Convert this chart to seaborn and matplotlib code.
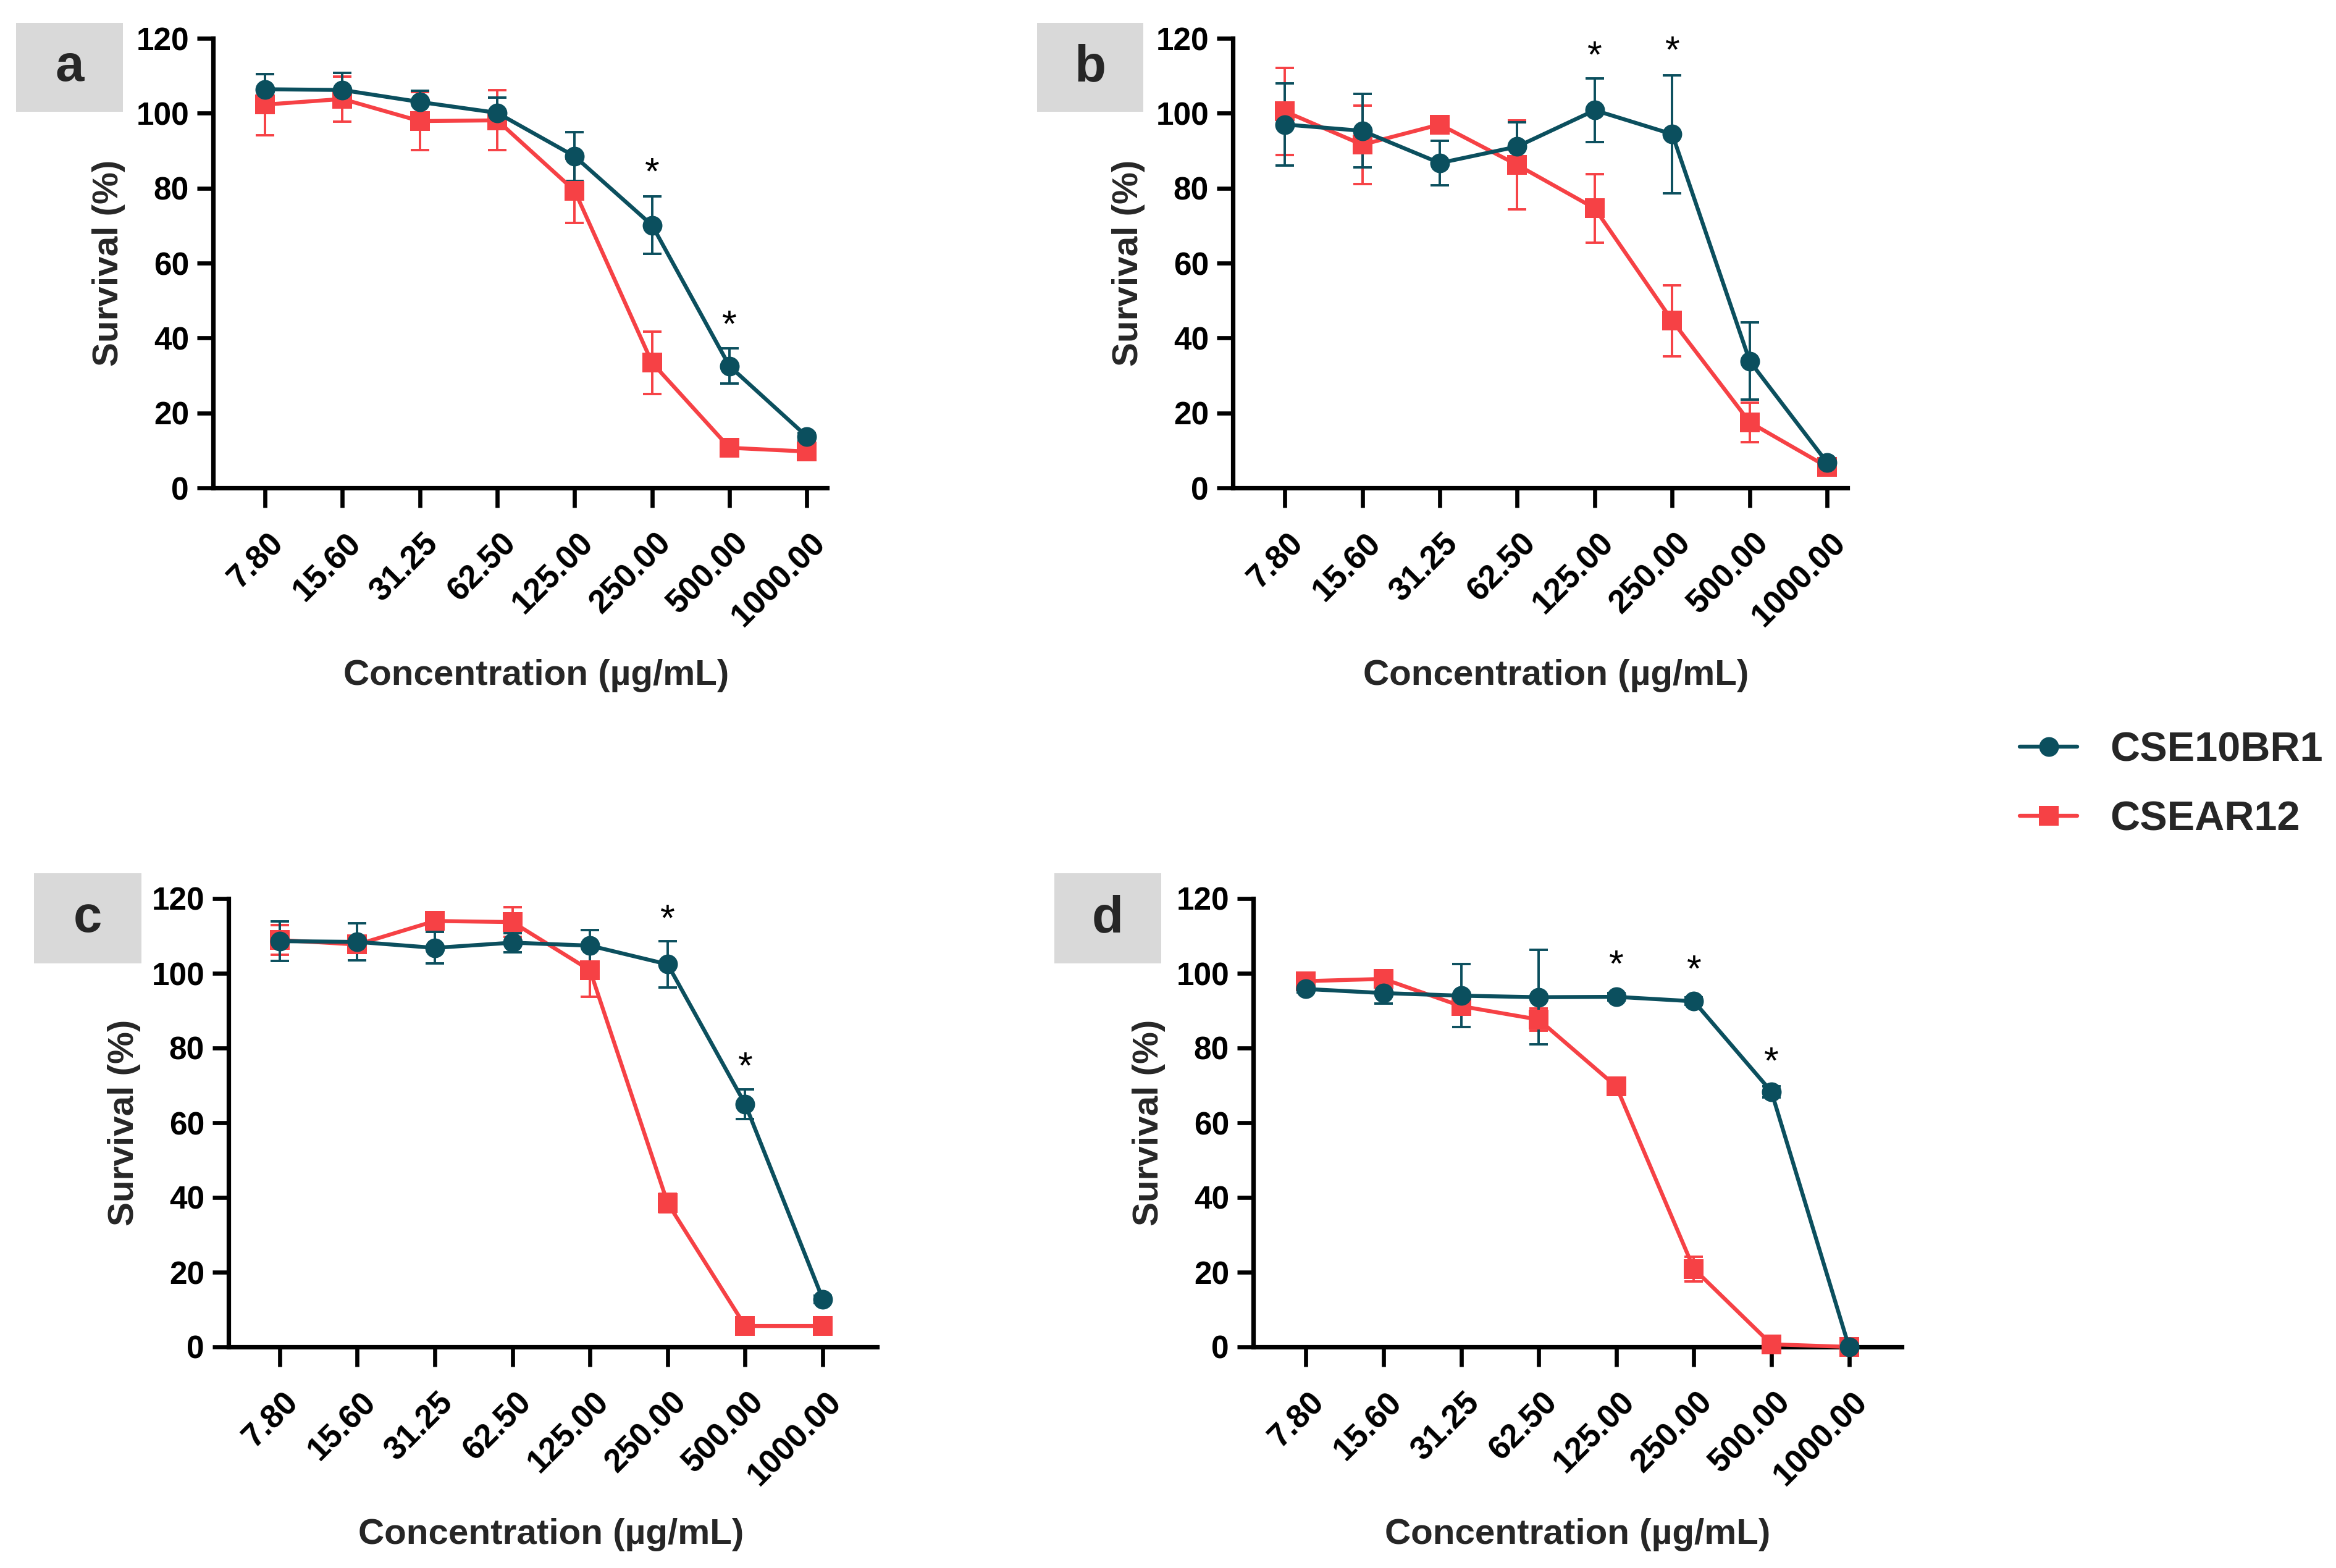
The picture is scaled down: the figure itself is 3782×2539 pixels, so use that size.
import numpy as np
import pandas as pd
import seaborn as sns
import matplotlib.pyplot as plt
import matplotlib.transforms as mtransforms
from matplotlib.lines import Line2D
from matplotlib.patches import Rectangle

# ------------------------------
# Data
# ------------------------------
conc_labels = ["7.80", "15.60", "31.25", "62.50", "125.00", "250.00", "500.00", "1000.00"]
strains = ["CSE10BR1", "CSEAR12"]

a_cse10 = [106.4, 106.2, 103.0, 100.1, 88.5, 70.1, 32.5, 13.7]
a_cse10_sd = [4.0, 4.5, 3.0, 4.0, 6.5, 7.7, 4.7, 1.0]
a_csear = [102.3, 103.8, 97.9, 98.1, 79.3, 33.4, 10.7, 9.7]
a_csear_sd = [8.2, 6.0, 7.8, 8.0, 8.6, 8.3, 1.0, 1.0]
a_stars = [(5, 83.7), (6, 43.0)]

b_cse10 = [97.0, 95.3, 86.7, 91.1, 100.8, 94.4, 33.8, 6.7]
b_cse10_sd = [11.0, 9.8, 6.0, 6.5, 8.5, 15.7, 10.3, 1.0]
b_csear = [100.5, 91.6, 97.0, 86.2, 74.6, 44.6, 17.5, 5.6]
b_csear_sd = [11.6, 10.5, 1.0, 11.8, 9.2, 9.5, 5.3, 1.0]
b_stars = [(4, 114.9), (5, 116.2)]

c_cse10 = [108.6, 108.4, 106.8, 108.2, 107.4, 102.4, 65.0, 12.8]
c_cse10_sd = [5.3, 5.0, 4.2, 2.5, 4.2, 6.2, 4.0, 1.0]
c_csear = [108.9, 107.7, 114.0, 113.7, 100.8, 38.5, 5.6, 5.6]
c_csear_sd = [4.0, 2.0, 1.0, 4.0, 7.0, 2.5, 1.0, 1.0]
c_stars = [(5, 114.0), (6, 74.6)]

d_cse10 = [95.8, 94.7, 94.0, 93.6, 93.7, 92.5, 68.3, 0.0]
d_cse10_sd = [1.0, 2.8, 8.4, 12.6, 1.0, 1.0, 1.5, 0.5]
d_csear = [97.9, 98.5, 91.2, 87.6, 69.7, 20.9, 0.7, 0.0]
d_csear_sd = [1.0, 1.0, 1.5, 3.0, 1.0, 3.3, 1.0, 0.5]
d_stars = [(4, 101.9), (5, 100.5), (6, 75.9)]

# ------------------------------
# Style
# ------------------------------
sns.set_style("ticks")
plt.rcParams['font.family'] = ['Liberation Sans', 'DejaVu Sans']
plt.rcParams['font.weight'] = 'bold'

TEAL = "#0b4f5e"
RED = "#f64145"
palette = {"CSE10BR1": TEAL, "CSEAR12": RED}
markers = {"CSE10BR1": "o", "CSEAR12": "s"}

W, H = 3782, 2539
DPI = 200
fig = plt.figure(figsize=(W / DPI, H / DPI), dpi=DPI)


def px_rect(x0, y0, x1, y1):
    """pixel box (top-left origin) -> figure fraction [l, b, w, h]"""
    return [x0 / W, 1 - y1 / H, (x1 - x0) / W, (y1 - y0) / H]


panels = [
    dict(tag="a", box=(26, 37, 199, 181), ax=(345, 62, 1339, 790), xlim=(-0.67, 7.26),
         cse10=a_cse10, cse10_sd=a_cse10_sd, csear=a_csear, csear_sd=a_csear_sd, stars=a_stars),
    dict(tag="b", box=(1679, 37, 1851, 181), ax=(1996, 62, 2991, 790), xlim=(-0.67, 7.26),
         cse10=b_cse10, cse10_sd=b_cse10_sd, csear=b_csear, csear_sd=b_csear_sd, stars=b_stars),
    dict(tag="c", box=(55, 1414, 229, 1560), ax=(370, 1455, 1420, 2181), xlim=(-0.66, 7.70),
         cse10=c_cse10, cse10_sd=c_cse10_sd, csear=c_csear, csear_sd=c_csear_sd, stars=c_stars),
    dict(tag="d", box=(1707, 1414, 1880, 1560), ax=(2029, 1455, 3079, 2181), xlim=(-0.68, 7.68),
         cse10=d_cse10, cse10_sd=d_cse10_sd, csear=d_csear, csear_sd=d_csear_sd, stars=d_stars),
]

x = np.arange(len(conc_labels))
label_shift = mtransforms.ScaledTranslation(8 / 72, -4 / 72, fig.dpi_scale_trans)

for p in panels:
    ax = fig.add_axes(px_rect(*p["ax"]))

    df = pd.DataFrame({
        "x": np.concatenate([x, x]),
        "survival": p["csear"] + p["cse10"],
        "strain": ["CSEAR12"] * len(x) + ["CSE10BR1"] * len(x),
    })

    # error bars (SD) below the markers
    ax.errorbar(x, p["csear"], yerr=p["csear_sd"], fmt="none", ecolor=RED,
                elinewidth=1.4, capsize=5.3, capthick=1.4, zorder=2, clip_on=False)
    ax.errorbar(x, p["cse10"], yerr=p["cse10_sd"], fmt="none", ecolor=TEAL,
                elinewidth=1.4, capsize=5.3, capthick=1.4, zorder=3, clip_on=False)

    sns.lineplot(data=df, x="x", y="survival", hue="strain", style="strain",
                 hue_order=["CSEAR12", "CSE10BR1"], style_order=["CSEAR12", "CSE10BR1"],
                 palette=palette, markers=markers, dashes=False, markersize=11.5,
                 markeredgewidth=0, linewidth=2.3, legend=False, ax=ax, zorder=4)
    for ln in ax.lines:
        ln.set_clip_on(False)
        if ln.get_color() == TEAL:
            ln.set_zorder(5)

    for xi, yi in p["stars"]:
        ax.text(xi, yi, "*", ha="center", va="center", fontsize=22,
                fontweight="normal", color="black")

    ax.set_xlim(*p["xlim"])
    ax.set_ylim(0, 120)
    ax.set_yticks(np.arange(0, 121, 20))
    ax.set_xticks(x)
    ax.set_xticklabels(conc_labels, rotation=45, ha="right", va="center",
                       rotation_mode="anchor")
    sns.despine(ax=ax)
    for s in ("left", "bottom"):
        ax.spines[s].set_linewidth(2.6)
        ax.spines[s].set_color("black")
    ax.tick_params(axis="y", length=9.5, width=2.4, pad=4.5, labelsize=18.5, colors="black")
    ax.tick_params(axis="x", length=11.5, width=2.4, pad=14, labelsize=19, colors="black")
    for t in ax.get_yticklabels():
        t.set_fontweight("bold")
    for t in ax.get_xticklabels():
        t.set_fontweight("bold")
        t.set_transform(t.get_transform() + label_shift)

    ax.set_xlabel("Concentration (µg/mL)", fontsize=21, fontweight="bold")
    ax.set_ylabel("Survival (%)", fontsize=21, fontweight="bold")
    x0, x1 = p["xlim"]
    ax_h = p["ax"][3] - p["ax"][1]
    ax_w = p["ax"][2] - p["ax"][0]
    ax.xaxis.set_label_coords((3.5 - x0) / (x1 - x0), -(1067 - 790) / ax_h)
    ax.yaxis.set_label_coords(-(345 - 203) / ax_w, 0.5)

    # panel letter in grey box
    l, b, w, h = px_rect(*p["box"])
    fig.patches.append(Rectangle((l, b), w, h, transform=fig.transFigure,
                                 facecolor="#d9d9d9", edgecolor="none", zorder=0))
    fig.text(l + w / 2, b + h / 2, p["tag"], ha="center", va="center",
             fontsize=30, fontweight="bold")

handles = [
    Line2D([0], [0], color=TEAL, marker="o", markersize=11.5, linewidth=2.3,
           markeredgewidth=0),
    Line2D([0], [0], color=RED, marker="s", markersize=11.5, linewidth=2.3,
           markeredgewidth=0),
]
leg = fig.legend(handles, strains, loc="center left", bbox_to_anchor=(0.8646, 0.4994),
                 frameon=False, fontsize=24, handlelength=1.4, handletextpad=0.8,
                 labelspacing=0.75, borderpad=0, borderaxespad=0)
for t in leg.get_texts():
    t.set_fontweight("bold")

fig.savefig("out.png", dpi=DPI)
